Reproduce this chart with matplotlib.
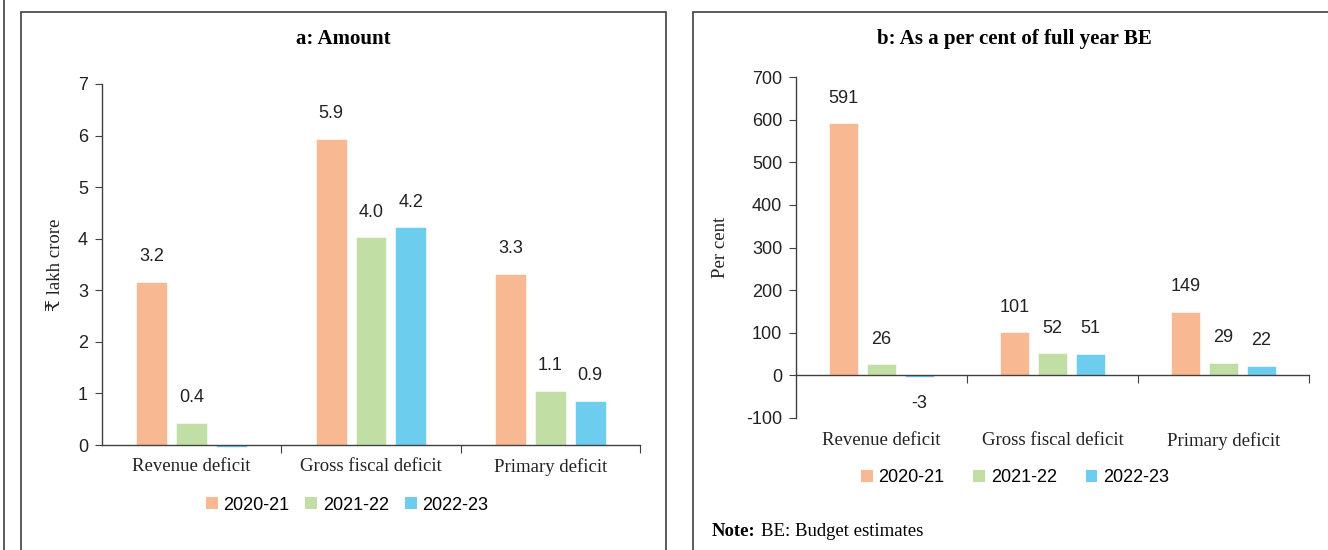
import numpy as np
import matplotlib.pyplot as plt
from matplotlib.patches import Rectangle, Patch
from matplotlib.lines import Line2D

plt.rcParams['font.size'] = 12.5
SERIF = ['Liberation Serif', 'DejaVu Serif', 'DejaVu Sans']
NUM = ['Liberation Sans Narrow', 'Liberation Sans', 'DejaVu Sans']

categories = ['Revenue deficit', 'Gross fiscal deficit', 'Primary deficit']
years = ['2020-21', '2021-22', '2022-23']
colors = ['#F7B892', '#C1DEA5', '#6DCDEE']

# a: amount, lakh crore
amount = [[3.16, 5.94, 3.32],
          [0.43, 4.03, 1.05],
          [-0.04, 4.22, 0.85]]
amount_lbl = [['3.2', '5.9', '3.3'],
              ['0.4', '4.0', '1.1'],
              ['', '4.2', '0.9']]

# b: per cent of full-year BE
pct = [[591, 101, 149],
       [26, 52, 29],
       [-3, 51, 22]]

W, H = 1328, 550
fig = plt.figure(figsize=(W/100, H/100), dpi=100)
axc = '#404040'
txt = '#222222'

def fx(px): return px / W
def fy(py): return 1 - py / H

# panel frames
fig.add_artist(Line2D([fx(4), fx(4)], [0, 1], color=axc, lw=1.2))
fig.add_artist(Rectangle((fx(21), -0.05), fx(666 - 21), fy(12) + 0.05,
                         fill=False, ec=axc, lw=1.2))
fig.add_artist(Rectangle((fx(693), -0.05), fx(1345 - 693), fy(12) + 0.05,
                         fill=False, ec=axc, lw=1.2))

x = np.arange(len(categories))
step, bw = 0.222, 0.172


def style(ax, ymin, ymax, ticks):
    for s in ['top', 'right']:
        ax.spines[s].set_visible(False)
    for s in ['left', 'bottom']:
        ax.spines[s].set_color(axc)
        ax.spines[s].set_linewidth(1.0)
    ax.set_xlim(-0.5, 2.5)
    ax.set_ylim(ymin, ymax)
    ax.set_yticks(ticks)
    ax.set_yticklabels([str(v) for v in ticks], family=NUM, fontsize=13)
    ax.tick_params(axis='y', length=5, color=axc, pad=5, labelcolor=txt)
    # category boundaries as tick marks, labels drawn separately
    ax.set_xticks([0.5, 1.5, 2.5])
    ax.set_xticklabels([])
    ax.tick_params(axis='x', length=6, color=axc)


# ---- a: Amount ----
ax1 = fig.add_axes([fx(102), fy(445), fx(640 - 102), fy(84) - fy(445)])
style(ax1, 0, 7, range(0, 8))
for i, yr in enumerate(years):
    bars = ax1.bar(x + (i - 1) * step, amount[i], bw, color=colors[i],
                   edgecolor='white', linewidth=0.4, clip_on=False)
    for b, v, lb in zip(bars, amount[i], amount_lbl[i]):
        if lb:
            ax1.annotate(lb, (b.get_x() + b.get_width() / 2, v),
                         xytext=(0, 12), textcoords='offset points',
                         ha='center', va='bottom', family=NUM, fontsize=13,
                         color=txt)
for c, name in zip(x, categories):
    ax1.text(c, -0.035, name, transform=ax1.get_xaxis_transform(),
             ha='center', va='top', family=SERIF, fontsize=13.5, color=txt)
ax1.set_ylabel('₹ lakh crore', family=SERIF, fontsize=13.5, labelpad=10,
               color=txt)
fig.text(fx(343), fy(39), 'a: Amount', ha='center', va='center',
         family=SERIF, fontweight='bold', fontsize=15)

# ---- b: As a per cent of full year BE ----
ax2 = fig.add_axes([fx(796), fy(418), fx(1309 - 796), fy(77) - fy(418)])
style(ax2, -100, 700, range(-100, 800, 100))
ax2.spines['bottom'].set_position(('data', 0))
for i, yr in enumerate(years):
    bars = ax2.bar(x + (i - 1) * step, pct[i], bw, color=colors[i],
                   edgecolor='white', linewidth=0.4)
    for b, v in zip(bars, pct[i]):
        off = 12 if v >= 0 else -13
        ax2.annotate(str(v), (b.get_x() + b.get_width() / 2, v),
                     xytext=(0, off), textcoords='offset points',
                     ha='center', va='bottom' if v >= 0 else 'top',
                     family=NUM, fontsize=13, color=txt)
for c, name in zip(x, categories):
    ax2.text(c, -0.04, name, transform=ax2.get_xaxis_transform(),
             ha='center', va='top', family=SERIF, fontsize=13.5, color=txt)
ax2.set_ylabel('Per cent', family=SERIF, fontsize=13.5, labelpad=12,
               color=txt)
fig.text(fx(1014), fy(39), 'b: As a per cent of full year BE', ha='center',
         va='center', family=SERIF, fontweight='bold', fontsize=15)

# legends
handles = [Patch(facecolor=c, edgecolor='none', label=y) for c, y in zip(colors, years)]
leg_kw = dict(loc='center', ncol=3, frameon=False, handlelength=0.65,
              handleheight=0.65, handletextpad=0.3,
              prop={'family': NUM, 'size': 13})
fig.legend(handles=handles, bbox_to_anchor=(fx(347), fy(505)),
           columnspacing=0.9, **leg_kw)
fig.legend(handles=handles, bbox_to_anchor=(fx(1015), fy(478)),
           columnspacing=1.6, **leg_kw)

fig.text(fx(712), fy(532), 'Note:', ha='left', va='center', family=SERIF,
         fontweight='bold', fontsize=13.5)
fig.text(fx(761), fy(532), 'BE: Budget estimates', ha='left', va='center',
         family=SERIF, fontsize=13.5)

fig.savefig('out.png', dpi=100)
